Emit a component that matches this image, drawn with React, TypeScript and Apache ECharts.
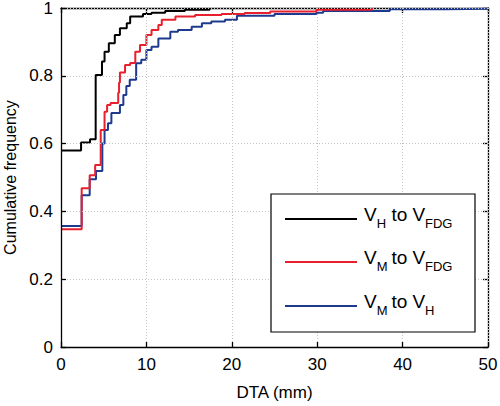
import React, { useEffect, useRef } from "react";
import * as echarts from "echarts";

const xTicks = [0, 10, 20, 30, 40, 50];
const yTicks = [0, 0.2, 0.4, 0.6, 0.8, 1];

const seriesNames = ["V_H to V_FDG", "V_M to V_FDG", "V_M to V_H"];
const legendSubs: [string, string][] = [["H", "FDG"], ["M", "FDG"], ["M", "H"]];

const blackData: [number, number][] = [
  [0, 0.58], [2.35, 0.603], [3.4, 0.613], [4.06, 0.802], [4.8, 0.842],
  [5.1, 0.871], [5.6, 0.896], [6.3, 0.92], [6.9, 0.94], [7.7, 0.955], [8.1, 0.975],
  [9.6, 0.982], [10.6, 0.986], [12.2, 0.991], [14.5, 0.995], [17.4, 1.0],
];

const redData: [number, number][] = [
  [0, 0.347], [2.42, 0.468], [3.36, 0.507], [4.0, 0.537], [4.65, 0.64],
  [5.1, 0.694], [5.4, 0.714], [5.8, 0.72], [6.7, 0.75], [6.8, 0.78], [6.9, 0.81],
  [7.5, 0.832], [8.1, 0.838], [8.7, 0.871], [9.25, 0.891], [10.0, 0.92], [10.6, 0.935],
  [11.4, 0.95], [11.8, 0.965], [13.4, 0.975], [15.7, 0.979], [18.8, 0.982],
  [21.5, 0.985], [24.5, 0.99], [29.9, 0.995], [36.4, 1.0],
];

const blueData: [number, number][] = [
  [0, 0.357], [2.42, 0.448], [3.36, 0.495], [4.1, 0.519], [4.84, 0.6],
  [5.1, 0.64], [5.5, 0.66], [5.9, 0.69], [6.9, 0.714], [7.3, 0.743], [7.65, 0.77],
  [8.05, 0.788], [8.8, 0.837], [9.4, 0.847], [10.0, 0.876], [10.6, 0.886], [11.4, 0.91],
  [12.8, 0.93], [13.7, 0.935], [15.3, 0.945], [16.5, 0.955], [17.6, 0.96], [19.2, 0.965],
  [20.6, 0.977], [25, 0.982], [29.9, 0.986], [30.7, 0.991], [38.5, 0.996], [45, 0.998],
  [50, 0.998],
];

const colors = ["#000000", "#e8202e", "#1d3a8f"];

const FONT = "'Liberation Sans', Arial, Helvetica, sans-serif";

export default function App() {
  const ref = useRef<HTMLDivElement>(null);
  useEffect(() => {
    if (!ref.current) return;
    const chart = echarts.init(ref.current, undefined, { renderer: "svg" });
    const grid = { left: 61, right: 12, top: 8, bottom: 59, outerBoundsMode: "none", containLabel: false };
    const splitLine = { show: true, lineStyle: { color: "#c4c4c4", type: [1, 2] as any, width: 1 } };
    const lineStyleAxis = { color: "#000", width: 1.3 };
    const fmtY = (v: number) => String(Math.round(v * 10) / 10);

    const legendX0 = 271, legendY0 = 194, legendW = 204, legendH = 138;
    const rowsY = [219, 262, 306];
    const tx = 364;
    const legendGraphics: any[] = [
      {
        type: "rect",
        shape: { x: legendX0, y: legendY0, width: legendW, height: legendH },
        style: { fill: "#fff", stroke: "#000", lineWidth: 1.2 },
        z: 100,
      },
    ];
    const mainText = (x: number, y: number, text: string) => ({
      type: "text", x, y, z: 101,
      style: { text, fontSize: 19, fontFamily: FONT, fill: "#000", verticalAlign: "middle", align: "left" },
    });
    const subText = (x: number, y: number, text: string) => ({
      type: "text", x, y, z: 101,
      style: { text, fontSize: 13, fontFamily: FONT, fill: "#000", verticalAlign: "middle", align: "left" },
    });
    rowsY.forEach((yy, i) => {
      legendGraphics.push({
        type: "line",
        shape: { x1: 285, y1: yy, x2: 357, y2: yy },
        style: { stroke: colors[i], lineWidth: 2 },
        z: 101,
      });
      legendGraphics.push(mainText(tx, yy - 5, "V"));
      legendGraphics.push(subText(tx + 12.7, yy + 4.5, legendSubs[i][0]));
      legendGraphics.push(mainText(tx + 27.4, yy - 5, "to V"));
      legendGraphics.push(subText(tx + 61, yy + 4.5, legendSubs[i][1]));
    });

    const option: any = {
      animation: false,
      backgroundColor: "#fff",
      grid,
      xAxis: [
        {
          type: "value",
          min: 0,
          max: 50,
          interval: 10,
          name: "DTA (mm)",
          nameLocation: "middle",
          nameGap: 37,
          nameTextStyle: { fontSize: 17, fontFamily: FONT, color: "#000" },
          axisLine: { show: true, lineStyle: lineStyleAxis },
          axisTick: { show: true, inside: true, length: 5, lineStyle: lineStyleAxis },
          axisLabel: { fontSize: 17, fontFamily: FONT, color: "#000", margin: 9 },
          splitLine,
          z: 10,
        },
        {
          type: "value",
          position: "top",
          min: 0,
          max: 50,
          interval: 10,
          axisLine: { show: true, onZero: false, lineStyle: lineStyleAxis },
          axisTick: { show: true, inside: true, length: 5, lineStyle: lineStyleAxis },
          axisLabel: { show: false },
          splitLine: { show: false },
        },
      ],
      yAxis: [
        {
          type: "value",
          min: 0,
          max: 1,
          interval: 0.2,
          name: "Cumulative frequency",
          nameLocation: "middle",
          nameGap: 40,
          nameTextStyle: { fontSize: 16, fontFamily: FONT, color: "#000" },
          axisLine: { show: true, lineStyle: lineStyleAxis },
          axisTick: { show: true, inside: true, length: 5, lineStyle: lineStyleAxis },
          axisLabel: { fontSize: 17, fontFamily: FONT, color: "#000", margin: 8, formatter: fmtY },
          splitLine,
          z: 10,
        },
        {
          type: "value",
          position: "right",
          min: 0,
          max: 1,
          interval: 0.2,
          axisLine: { show: true, onZero: false, lineStyle: lineStyleAxis },
          axisTick: { show: true, inside: true, length: 5, lineStyle: lineStyleAxis },
          axisLabel: { show: false },
          splitLine: { show: false },
        },
      ],
      series: [blackData, redData, blueData].map((d, i) => ({
        name: seriesNames[i],
        type: "line",
        step: "end",
        data: d,
        showSymbol: false,
        symbol: "none",
        lineStyle: { color: colors[i], width: 2 },
        itemStyle: { color: colors[i] },
        z: 3 + (2 - i),
        clip: true,
      })),
      graphic: legendGraphics,
    };
    chart.setOption(option);
    return () => chart.dispose();
  }, []);
  return <div ref={ref} style={{ position: "absolute", left: 0, top: 0, width: 500, height: 406 }} />;
}
